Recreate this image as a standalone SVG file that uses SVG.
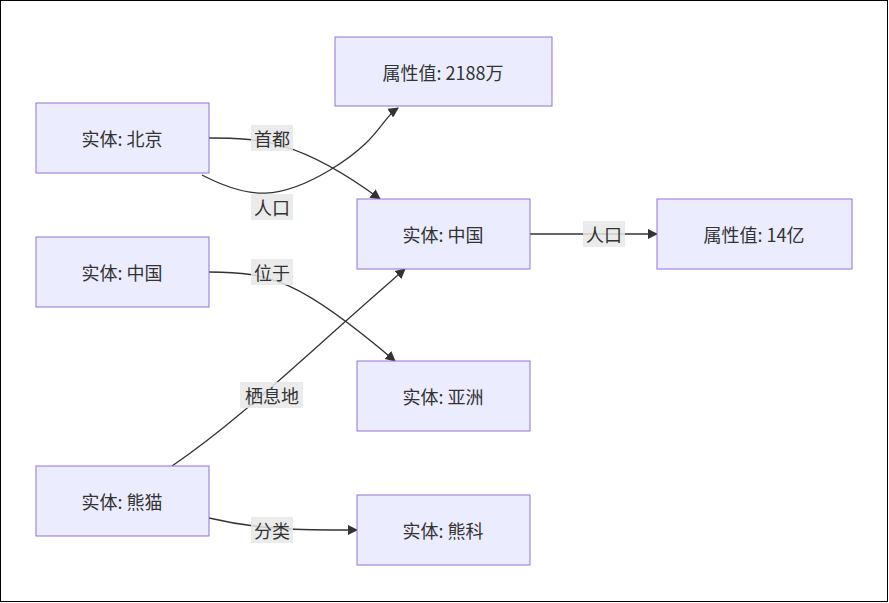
<svg xmlns="http://www.w3.org/2000/svg" width="889" height="603" viewBox="0 0 889 603">
<style>
.n rect{fill:#ECECFF;stroke:#9370DB;stroke-width:1}
text{font-family:"Noto Sans CJK SC","Liberation Sans",sans-serif;font-size:18px;fill:#333;text-anchor:middle;dominant-baseline:central}
.e path{fill:none;stroke:#333;stroke-width:1.3}
.lb{fill:rgba(232,232,232,0.85)}
</style>
<defs><marker id="a" viewBox="0 0 10 10" refX="9" refY="5" markerWidth="8" markerHeight="8" orient="auto"><path d="M0,0L10,5L0,10z" fill="#333"/></marker></defs>
<rect x="0.5" y="0.5" width="887" height="601" fill="#fff" stroke="#000"/>
<g class="e">
<path d="M202,175C250,200 280,200 330,170S380,120 398,108" marker-end="url(#a)"/>
<path d="M209,138C260,138 300,140 380,199" marker-end="url(#a)"/>
<path d="M530,234H657" marker-end="url(#a)"/>
<path d="M209,272C270,272 300,280 395,361" marker-end="url(#a)"/>
<path d="M172,466C240,420 300,360 405,269" marker-end="url(#a)"/>
<path d="M209,518C260,530 300,530 357,530" marker-end="url(#a)"/>
<rect class="lb" x="251" y="125" width="42" height="26"/><text x="272" y="138">首都</text>
<rect class="lb" x="251" y="194" width="42" height="26"/><text x="272" y="207">人口</text>
<rect class="lb" x="583" y="221" width="42" height="26"/><text x="604" y="234">人口</text>
<rect class="lb" x="251" y="259" width="42" height="26"/><text x="272" y="272">位于</text>
<rect class="lb" x="240" y="382" width="63" height="26"/><text x="272" y="395">栖息地</text>
<rect class="lb" x="251" y="517" width="42" height="26"/><text x="272" y="530">分类</text>
</g>
<g id="bj" class="n"><rect x="36" y="103" width="173" height="70"/><text x="122" y="138">实体: 北京</text></g>
<g id="zgl" class="n"><rect x="36" y="237" width="173" height="70"/><text x="122" y="272">实体: 中国</text></g>
<g id="xm" class="n"><rect x="36" y="466" width="173" height="70"/><text x="122" y="501">实体: 熊猫</text></g>
<g id="p1" class="n"><rect x="335" y="37" width="217" height="69"/><text x="443" y="72">属性值: 2188万</text></g>
<g id="zg" class="n"><rect x="357" y="199" width="173" height="70"/><text x="443" y="234">实体: 中国</text></g>
<g id="yz" class="n"><rect x="357" y="361" width="173" height="70"/><text x="443" y="396">实体: 亚洲</text></g>
<g id="xk" class="n"><rect x="357" y="495" width="173" height="70"/><text x="443" y="530">实体: 熊科</text></g>
<g id="p2" class="n"><rect x="657" y="199" width="195" height="70"/><text x="754" y="234">属性值: 14亿</text></g>
</svg>
